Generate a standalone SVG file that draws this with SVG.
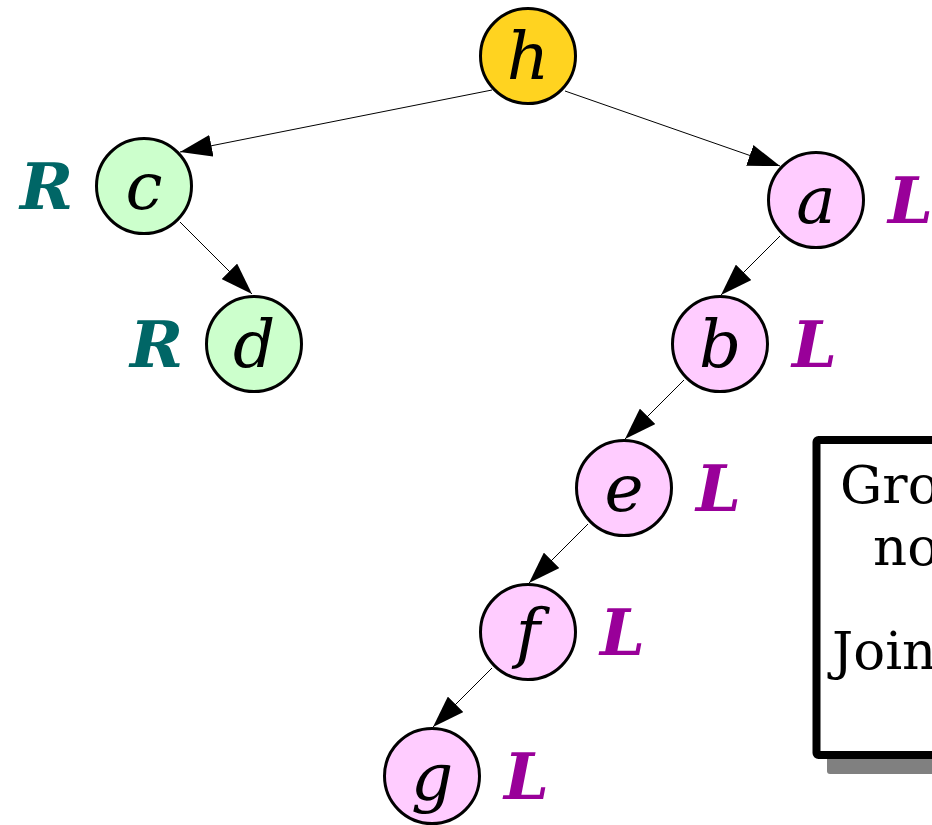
<svg xmlns="http://www.w3.org/2000/svg" width="932" height="825" viewBox="0 0 932 825">
<style>
.node{stroke:#000;stroke-width:3}
.yel{fill:#ffd320}
.grn{fill:#ccffcc}
.pnk{fill:#ffccff}
.let{font-family:"DejaVu Serif",serif;font-style:italic;font-size:66px;text-anchor:middle;fill:#000}
.lab{font-family:"DejaVu Serif",serif;font-style:italic;font-weight:bold;font-size:64px}
.R{fill:#006666}
.L{fill:#990099}
.edge{stroke:#000;stroke-width:1;fill:none;marker-end:url(#arr)}
.box{font-family:"DejaVu Serif",serif;font-size:53px;fill:#000}
</style>
<defs>
<marker id="arr" markerUnits="userSpaceOnUse" markerWidth="32" markerHeight="22" viewBox="0 0 32 22" refX="32" refY="11" orient="auto">
<path d="M0,0 L32,11 L0,22 z" fill="#000"/>
</marker>
</defs>
<rect width="932" height="825" fill="#fff"/>
<g id="connectors">
<line class="edge" x1="492" y1="90" x2="180" y2="152"/>
<line class="edge" x1="565" y1="91" x2="780" y2="166"/>
<line class="edge" x1="180" y1="222" x2="252" y2="294"/>
<line class="edge" x1="780" y1="236" x2="721" y2="295"/>
<line class="edge" x1="684" y1="380" x2="625" y2="439"/>
<line class="edge" x1="588" y1="524" x2="529" y2="583"/>
<line class="edge" x1="492" y1="668" x2="433" y2="727"/>
</g>
<g id="node-h"><circle class="node yel" cx="528" cy="56" r="47.5"/><text class="let" x="528" y="79">h</text></g>
<g id="node-c"><circle class="node grn" cx="144" cy="186" r="47.5"/><text class="let" x="144" y="209">c</text><text class="lab R" x="20" y="209">R</text></g>
<g id="node-d"><circle class="node grn" cx="254" cy="344" r="47.5"/><text class="let" x="254" y="367">d</text><text class="lab R" x="130" y="367">R</text></g>
<g id="node-a"><circle class="node pnk" cx="816" cy="200" r="47.5"/><text class="let" x="816" y="223">a</text><text class="lab L" x="888" y="223">L</text></g>
<g id="node-b"><circle class="node pnk" cx="720" cy="344" r="47.5"/><text class="let" x="720" y="367">b</text><text class="lab L" x="792" y="367">L</text></g>
<g id="node-e"><circle class="node pnk" cx="624" cy="488" r="47.5"/><text class="let" x="624" y="511">e</text><text class="lab L" x="696" y="511">L</text></g>
<g id="node-f"><circle class="node pnk" cx="528" cy="632" r="47.5"/><text class="let" x="528" y="655">f</text><text class="lab L" x="600" y="655">L</text></g>
<g id="node-g"><circle class="node pnk" cx="432" cy="776" r="47.5"/><text class="let" x="432" y="799">g</text><text class="lab L" x="504" y="799">L</text></g>
<g id="note">
<rect x="827" y="452" width="200" height="322" rx="3" fill="#808080"/>
<rect x="816.5" y="440" width="200" height="315" rx="2" fill="#fff" stroke="#000" stroke-width="8"/>
<text class="box" x="840" y="503">Gro</text>
<text class="box" x="873" y="565">no</text>
<text class="box" x="832" y="669">Join</text>
</g>
</svg>
